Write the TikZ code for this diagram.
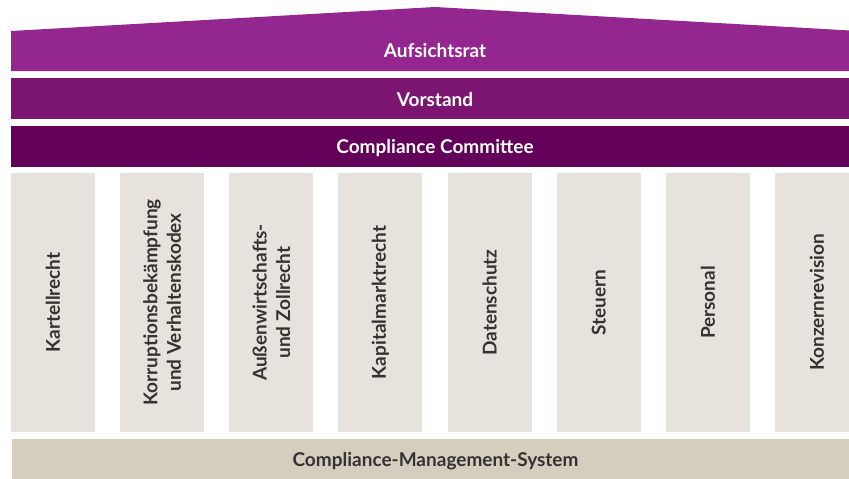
\documentclass[tikz,border=0pt]{standalone}
\usepackage{fontspec}
\setmainfont{Lato}
\definecolor{roofc}{HTML}{93278F}
\definecolor{vorc}{HTML}{7A1672}
\definecolor{comc}{HTML}{63005A}
\definecolor{pillc}{HTML}{E7E3DC}
\definecolor{basec}{HTML}{D5CDBE}
\definecolor{txtc}{HTML}{333333}
\begin{document}
\begin{tikzpicture}[x=1pt,y=-1pt,
  bar/.style={minimum width=848pt,minimum height=41pt,inner sep=0pt,font=\fontsize{19}{21}\selectfont\bfseries,text=white},
  pillar/.style={fill=pillc,rotate=90,minimum width=259pt,minimum height=84pt,inner sep=0pt,align=center,
    font=\fontsize{19}{23.5}\selectfont\bfseries,text=txtc},
  basebar/.style={fill=basec,minimum width=847pt,minimum height=40pt,inner sep=0pt,
    font=\fontsize{19}{21}\selectfont\bfseries,text=txtc}]
\useasboundingbox (0,0) rectangle (849,479);
\clip (0,0) rectangle (849,479);
\fill[roofc] (11,31) -- (435,7) -- (859,31) -- (859,71) -- (11,71) -- cycle;
\fill[vorc] (11,78) rectangle (859,119);
\fill[comc] (11,126) rectangle (859,167);
\node[bar] (auf) at (435,50.5) {Aufsichtsrat};
\node[bar] (vor) at (435,99.5) {Vorstand};
\node[bar] (com) at (435,148.5) {Compliance Committee};
\foreach \i/\t/\n in {0/{Kartellrecht}/p1,
  1/{Korruptionsbekämpfung\\und Verhaltenskodex}/p2,
  2/{Außenwirtschafts-\\und Zollrecht}/p3,
  3/{Kapitalmarktrecht}/p4,
  4/{Datenschutz}/p5,
  5/{Steuern}/p6,
  6/{Personal}/p7,
  7/{Konzernrevision}/p8}{
  \node[pillar] (\n) at ({53+109.14*\i},302.5) {\t};
}
\fill[basec] (12,439) rectangle (859,479);
\node[basebar,fill=none] (cms) at (435.5,461) {Compliance-Management-System};
\end{tikzpicture}
\end{document}
